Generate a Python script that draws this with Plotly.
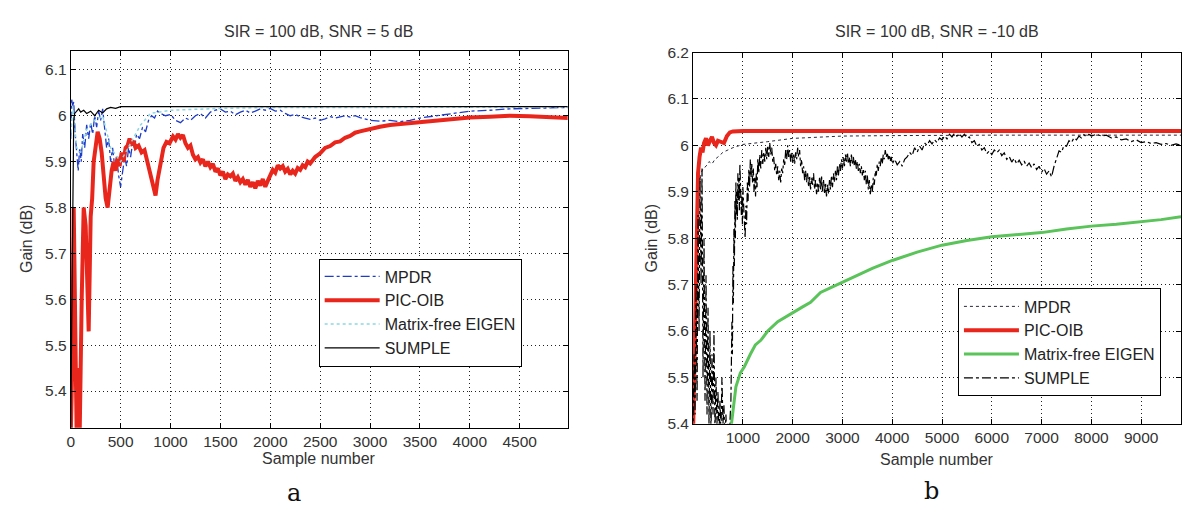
import plotly.graph_objects as go

# ---------------- data: panel a (SIR = 100 dB, SNR = 5 dB) ----------------
a_mpdr_n = [0, 10, 20, 30, 45, 60, 75, 90, 105, 120, 140, 160, 180, 200, 220, 240, 260, 280, 300, 320,
            340, 360, 380, 400, 420, 440, 460, 480, 500, 520, 540, 560, 580, 600, 620, 640, 660, 690, 720,
            750, 780, 810, 840, 870, 900, 950, 1000, 1050, 1100, 1150, 1200, 1250, 1300, 1350, 1400, 1450,
            1500, 1550, 1600, 1650, 1700, 1750, 1800, 1850, 1900, 1950, 2000, 2050, 2100, 2150, 2200, 2250,
            2300, 2350, 2400, 2450, 2500, 2550, 2600, 2650, 2700, 2750, 2800, 2850, 2900, 2950, 3000, 3100,
            3200, 3300, 3400, 3500, 3600, 3700, 3800, 3900, 4000, 4200, 4400, 4600, 4800, 4990]
a_mpdr_v = [5.95, 6.035, 6.02, 6.03, 5.96, 5.92, 5.88, 5.93, 5.90, 5.96, 5.93, 5.98, 5.95, 5.985, 5.96, 6.0,
            5.975, 6.01, 5.99, 6.015, 5.97, 5.93, 5.95, 5.90, 5.93, 5.89, 5.91, 5.87, 5.845, 5.88, 5.91, 5.89,
            5.93, 5.91, 5.94, 5.93, 5.96, 5.95, 5.975, 5.965, 5.99, 6.0, 5.995, 6.01, 6.005, 6.0, 6.003, 5.99,
            5.985, 5.995, 5.99, 6.0, 6.005, 5.995, 6.008, 6.012, 6.015, 6.008, 6.01, 6.002, 6.008, 6.012,
            6.006, 6.01, 6.015, 6.012, 6.016, 6.01, 6.012, 6.005, 6.0, 6.003, 5.998, 5.995, 5.992, 5.995, 5.99,
            5.993, 5.998, 5.995, 5.998, 6.0, 5.997, 6.0, 5.996, 5.993, 5.99, 5.988, 5.99, 5.987, 5.99, 5.995,
            5.998, 6.002, 6.005, 6.008, 6.01, 6.012, 6.015, 6.016, 6.017, 6.018]

a_pic_n = [0, 15, 30, 45, 60, 75, 90, 110, 130, 150, 180, 200, 215, 230, 250, 270, 290, 310, 330, 350, 370,
           390, 410, 430, 450, 470, 490, 510, 530, 550, 570, 590, 610, 630, 650, 680, 710, 740, 770, 800, 830,
           850, 870, 900, 930, 960, 990,
           1025, 1050, 1075, 1100, 1125, 1150, 1175, 1200, 1225, 1250, 1275, 1300, 1325, 1350, 1375, 1400,
           1425, 1450, 1475, 1500, 1525, 1550, 1575, 1600, 1625, 1650, 1675, 1700, 1725, 1750, 1775, 1800,
           1825, 1850, 1875, 1900, 1925, 1950, 1975, 2000, 2025, 2050, 2075, 2100, 2125, 2150, 2175, 2200,
           2225, 2250, 2275, 2300, 2325, 2350, 2375, 2400, 2450, 2500, 2550, 2600, 2650, 2700, 2750, 2800,
           2850, 2900, 3000, 3100, 3200, 3300, 3400, 3500, 3600, 3700, 3800, 3900, 4000, 4200, 4400, 4600,
           4800, 4990]
a_pic_v = [5.30, 5.45, 5.80, 5.50, 5.30, 5.45, 5.31, 5.60, 5.80, 5.76, 5.53, 5.78, 5.82, 5.90, 5.94, 5.965,
           5.95, 5.92, 5.87, 5.82, 5.80, 5.84, 5.88, 5.90, 5.88, 5.91, 5.89, 5.92, 5.90, 5.93, 5.935, 5.95,
           5.94, 5.945, 5.93, 5.935, 5.92, 5.925, 5.90, 5.87, 5.845, 5.826, 5.86, 5.90, 5.93, 5.943, 5.94,
           5.955, 5.948, 5.96, 5.952, 5.958, 5.94, 5.93, 5.935, 5.915, 5.905, 5.91, 5.898, 5.905, 5.89, 5.90,
           5.888, 5.895, 5.878, 5.885, 5.87, 5.878, 5.862, 5.872, 5.868, 5.874, 5.858, 5.866, 5.855, 5.862,
           5.85, 5.86, 5.845, 5.855, 5.842, 5.858, 5.848, 5.862, 5.845, 5.858, 5.87, 5.882, 5.876, 5.892,
           5.885, 5.89, 5.878, 5.884, 5.872, 5.88, 5.874, 5.886, 5.882, 5.892, 5.888, 5.90, 5.896, 5.91, 5.918,
           5.93, 5.934, 5.942, 5.944, 5.952, 5.956, 5.963, 5.966, 5.972, 5.976, 5.98, 5.982, 5.985, 5.987,
           5.99, 5.992, 5.994, 5.995, 5.996, 5.998, 6.0, 5.999, 5.997, 5.995]

a_eig_n = [0, 20, 60, 100, 160, 240, 320, 400, 500, 600, 700, 800, 1000, 1500, 2000, 3000, 4000, 4990]
a_eig_v = [5.95, 6.02, 5.93, 5.92, 5.97, 5.99, 6.0, 5.93, 5.9, 5.94, 5.98, 6.005, 6.012, 6.016, 6.018,
           6.018, 6.019, 6.019]

a_sum_n = [0, 10, 20, 30, 40, 60, 80, 100, 130, 160, 200, 240, 280, 320, 360, 400, 450, 500, 600, 800,
           1000, 2000, 3000, 4000, 4990]
a_sum_v = [5.32, 5.60, 5.90, 5.99, 6.005, 6.01, 6.015, 6.008, 6.012, 6.005, 6.01, 6.0, 6.012, 6.006, 6.015,
           6.018, 6.016, 6.02, 6.02, 6.021, 6.02, 6.02, 6.02, 6.02, 6.02]

# ---------------- data: panel b (SIR = 100 dB, SNR = -10 dB) ----------------
b_mpdr_n = [0, 40, 80, 120, 160, 200, 260, 320, 380, 440, 500, 600, 700, 800, 1000, 1200, 1500, 2000,
            2500, 3000, 4000, 5000, 6000, 7000, 8000, 9800]
b_mpdr_v = [5.40, 5.55, 5.78, 5.90, 5.94, 5.95, 5.955, 5.965, 5.96, 5.97, 5.975, 5.985, 5.99, 5.995, 6.002,
            6.005, 6.008, 6.015, 6.018, 6.02, 6.021, 6.022, 6.022, 6.022, 6.022, 6.022]

b_pic_n = [0, 20, 40, 60, 80, 100, 130, 160, 190, 220, 260, 300, 340, 380, 420, 460, 500, 560, 620, 680,
           740, 800, 1000, 2000, 4000, 6000, 8000, 9800]
b_pic_v = [5.38, 5.50, 5.62, 5.78, 5.88, 5.94, 5.975, 5.995, 5.985, 6.005, 6.015, 6.0, 6.01, 6.018, 6.005,
           6.0, 6.01, 6.008, 6.005, 6.02, 6.028, 6.03, 6.031, 6.031, 6.031, 6.031, 6.031, 6.031]

b_eig_n = [760, 800, 860, 950, 1030, 1150, 1250, 1360, 1500, 1700, 1850, 2030, 2200, 2360, 2560, 2800,
           3000, 3300, 3600, 4000, 4500, 5000, 5500, 6000, 6500, 7000, 7500, 8000, 8500, 9000, 9400, 9800]
b_eig_v = [5.39, 5.43, 5.48, 5.51, 5.523, 5.55, 5.57, 5.58, 5.60, 5.62, 5.63, 5.641, 5.652, 5.662, 5.683,
           5.695, 5.705, 5.72, 5.735, 5.752, 5.77, 5.785, 5.795, 5.803, 5.808, 5.812, 5.82, 5.826, 5.83,
           5.835, 5.84, 5.846]

b_sum_n = [0, 20, 40, 60, 80, 100, 120, 140, 160, 180, 200, 220, 240, 260, 280, 300, 320, 340, 360, 380,
           400, 420, 440, 460, 480, 500, 520, 540, 560, 580, 600, 620, 640, 660, 680, 700, 720, 740,
           760, 780, 790, 800, 810, 820, 830, 840, 850, 860, 870, 880, 890, 900, 910, 920, 930, 940, 950,
           960, 970, 980, 990, 1000, 1015, 1030, 1045, 1060, 1075, 1090, 1105, 1120, 1135, 1150, 1165, 1180,
           1195, 1210, 1225, 1240, 1255, 1270, 1285, 1300, 1320, 1340, 1360, 1380, 1400, 1420, 1440, 1460,
           1480, 1500, 1520, 1540, 1560, 1580, 1600, 1620, 1640, 1660, 1680, 1700, 1720, 1740, 1760, 1780,
           1800, 1820, 1840, 1860, 1880, 1900, 1920, 1940, 1960, 1980, 2000, 2020, 2040, 2060, 2080, 2100,
           2120, 2140, 2160, 2180, 2200, 2220, 2240, 2260, 2280, 2300, 2320, 2340, 2360, 2380, 2400, 2420,
           2440, 2460, 2480, 2500, 2520, 2540, 2560, 2580, 2600, 2620, 2640, 2660, 2680, 2700, 2720, 2740,
           2760, 2780, 2800, 2820, 2840, 2860, 2880, 2900, 2920, 2940, 2960, 2980, 3000, 3020, 3040, 3060,
           3080, 3100, 3120, 3140, 3160, 3180, 3200, 3220, 3240, 3260, 3280, 3300, 3320, 3340, 3360, 3380,
           3400, 3420, 3440, 3460, 3480, 3500, 3520, 3540, 3560, 3580, 3600, 3620, 3640, 3660, 3680, 3700,
           3720, 3740, 3760, 3780, 3800, 3820, 3840, 3860, 3880, 3900, 3920, 3940, 3960, 3980,
           4000, 4050, 4100, 4150, 4200, 4250, 4300, 4350, 4400, 4450, 4500, 4550, 4600, 4650, 4700, 4750,
           4800, 4850, 4900, 4950, 5000, 5050, 5100, 5150, 5200, 5250, 5300, 5350, 5400, 5450, 5500, 5550,
           5600, 5650, 5700, 5750, 5800, 5850, 5900, 5950, 6000, 6050, 6100, 6150, 6200, 6250, 6300, 6350,
           6400, 6450, 6500, 6550, 6600, 6650, 6700, 6750, 6800, 6850, 6900, 6950, 7000, 7050, 7100, 7150,
           7200, 7250, 7300, 7350, 7400, 7450, 7500, 7550, 7600, 7650, 7700, 7750, 7800, 7850, 7900, 7950,
           8000, 8100, 8200, 8300, 8400, 8500, 8600, 8700, 8800, 8900, 9000, 9100, 9200, 9300, 9400, 9500,
           9600, 9700, 9800]
b_sum_v = [5.38, 5.55, 5.42, 5.70, 5.45, 5.85, 5.60, 5.93, 5.70, 5.95, 5.50, 5.80, 5.45, 5.72, 5.42, 5.65,
           5.40, 5.60, 5.38, 5.55, 5.42, 5.60, 5.38, 5.50, 5.40, 5.47, 5.37, 5.45, 5.38, 5.50, 5.40, 5.44,
           5.37, 5.42, 5.36, 5.40, 5.36, 5.42,
           5.45, 5.62, 5.55, 5.74, 5.66, 5.82, 5.74, 5.88, 5.80, 5.92, 5.85, 5.90, 5.84, 5.94, 5.88, 5.93,
           5.86, 5.96, 5.90, 5.92, 5.85, 5.89, 5.83, 5.91, 5.86, 5.84, 5.80, 5.87, 5.83, 5.92, 5.88, 5.95,
           5.91, 5.97, 5.93, 5.96, 5.92, 5.95, 5.90, 5.93, 5.89, 5.94, 5.91, 5.97, 5.94, 5.98, 5.95, 5.99,
           5.96, 5.985, 5.965, 5.995, 5.97, 6.0, 5.975, 6.005, 5.98, 5.995, 5.965, 5.975, 5.945, 5.96, 5.935,
           5.955, 5.925, 5.945, 5.92, 5.95, 5.94, 5.97, 5.955, 5.99, 5.97, 6.0, 5.975, 5.99, 5.965, 5.985,
           5.96, 5.98, 5.96, 5.985, 5.97, 5.995, 5.975, 5.99, 5.955, 5.97, 5.94, 5.955, 5.925, 5.945, 5.92,
           5.94, 5.91, 5.935, 5.905, 5.93, 5.915, 5.94, 5.905, 5.925, 5.895, 5.92, 5.90, 5.93, 5.905, 5.935,
           5.90, 5.925, 5.895, 5.92, 5.89, 5.915, 5.895, 5.925, 5.905, 5.935, 5.91, 5.94, 5.92, 5.945, 5.925,
           5.955, 5.935, 5.96, 5.945, 5.97, 5.95, 5.975, 5.955, 5.98, 5.965, 5.985, 5.96, 5.975, 5.955, 5.98,
           5.96, 5.975, 5.955, 5.97, 5.95, 5.965, 5.945, 5.96, 5.94, 5.955, 5.935, 5.95, 5.925, 5.945, 5.915,
           5.935, 5.905, 5.925, 5.895, 5.915, 5.90, 5.93, 5.915, 5.945, 5.935, 5.96, 5.945, 5.965, 5.955,
           5.975, 5.96, 5.98, 5.97, 5.99, 5.975, 5.985, 5.97, 5.98, 5.965, 5.975,
           5.96, 5.97, 5.958, 5.965, 5.955, 5.97, 5.975, 5.985, 5.978, 5.995, 5.985, 5.998, 5.99, 6.005, 6.0,
           6.01, 6.003, 6.012, 6.006, 6.016, 6.012, 6.02, 6.014, 6.024, 6.018, 6.026, 6.02, 6.025, 6.018,
           6.024, 6.016, 6.018, 6.006, 6.01, 5.998, 6.002, 5.99, 5.995, 5.982, 5.988, 5.98, 5.99, 5.984,
           5.99, 5.978, 5.984, 5.97, 5.976, 5.964, 5.972, 5.96, 5.968, 5.958, 5.966, 5.955, 5.962, 5.952,
           5.96, 5.948, 5.955, 5.942, 5.95, 5.938, 5.945, 5.932, 5.955, 5.97, 5.988, 5.985, 6.0, 5.998, 6.01,
           6.006, 6.016, 6.012, 6.02, 6.016, 6.023, 6.018, 6.024, 6.02, 6.024, 6.02, 6.022, 6.016, 6.018,
           6.012, 6.014, 6.008, 6.012, 6.006, 6.008, 6.004, 6.006, 6.002, 6.004, 6.0, 6.003, 6.0]

series_names = ["MPDR", "PIC-OIB", "Matrix-free EIGEN", "SUMPLE"]

a_xticks = [0, 500, 1000, 1500, 2000, 2500, 3000, 3500, 4000, 4500]
a_yticks = [5.4, 5.5, 5.6, 5.7, 5.8, 5.9, 6.0, 6.1]
a_ytext = ["5.4", "5.5", "5.6", "5.7", "5.8", "5.9", "6", "6.1"]
b_xticks = [1000, 2000, 3000, 4000, 5000, 6000, 7000, 8000, 9000]
b_yticks = [5.4, 5.5, 5.6, 5.7, 5.8, 5.9, 6.0, 6.1, 6.2]
b_ytext = ["5.4", "5.5", "5.6", "5.7", "5.8", "5.9", "6", "6.1", "6.2"]

# ---------------- figure ----------------
W, H = 1182, 516
FONT = "Liberation Sans, Arial, sans-serif"
RED = "rgb(232,38,28)"
TXT = "#333"

fig = go.Figure()

# panel a
fig.add_trace(go.Scatter(x=a_mpdr_n, y=a_mpdr_v, mode="lines", name=series_names[0],
                         line=dict(color="rgb(30,60,200)", width=1.3, dash="dashdot"),
                         xaxis="x", yaxis="y", legend="legend"))
fig.add_trace(go.Scatter(x=a_pic_n, y=a_pic_v, mode="lines", name=series_names[1],
                         line=dict(color=RED, width=4),
                         xaxis="x", yaxis="y", legend="legend"))
fig.add_trace(go.Scatter(x=a_eig_n, y=a_eig_v, mode="lines", name=series_names[2],
                         line=dict(color="rgb(140,215,225)", width=1.5, dash="dot"),
                         xaxis="x", yaxis="y", legend="legend"))
fig.add_trace(go.Scatter(x=a_sum_n, y=a_sum_v, mode="lines", name=series_names[3],
                         line=dict(color="black", width=1.2),
                         xaxis="x", yaxis="y", legend="legend"))

# panel b
fig.add_trace(go.Scatter(x=b_mpdr_n, y=b_mpdr_v, mode="lines", name=series_names[0],
                         line=dict(color="rgb(40,40,60)", width=1, dash="dot"),
                         xaxis="x2", yaxis="y2", legend="legend2"))
fig.add_trace(go.Scatter(x=b_pic_n, y=b_pic_v, mode="lines", name=series_names[1],
                         line=dict(color=RED, width=4),
                         xaxis="x2", yaxis="y2", legend="legend2"))
fig.add_trace(go.Scatter(x=b_eig_n, y=b_eig_v, mode="lines", name=series_names[2],
                         line=dict(color="rgb(90,195,90)", width=3),
                         xaxis="x2", yaxis="y2", legend="legend2"))
fig.add_trace(go.Scatter(x=b_sum_n, y=b_sum_v, mode="lines", name=series_names[3],
                         line=dict(color="black", width=1.2, dash="dashdot"),
                         xaxis="x2", yaxis="y2", legend="legend2"))

axis_common = dict(showline=True, linecolor="black", linewidth=1, mirror="ticks",
                   ticks="inside", ticklen=5, tickcolor="black",
                   showgrid=True, gridcolor="rgba(20,20,20,0.95)", gridwidth=1, griddash="1px,3px",
                   zeroline=False, tickfont=dict(family=FONT, size=15.5, color=TXT))

fig.update_layout(
    width=W, height=H,
    margin=dict(l=0, r=0, t=0, b=0),
    paper_bgcolor="white", plot_bgcolor="white",
    font=dict(family=FONT, size=16, color=TXT),
    xaxis=dict(domain=[67 / W, 566 / W], range=[0, 4980], tickvals=a_xticks, anchor="y", **axis_common),
    yaxis=dict(domain=[1 - 433 / H, 1 - 43 / H], range=[5.32, 6.142], tickvals=a_yticks,
               ticktext=a_ytext, anchor="x", **axis_common),
    xaxis2=dict(domain=[692 / W, 1.0], range=[0, 9800], tickvals=b_xticks, anchor="y2", **axis_common),
    yaxis2=dict(domain=[1 - 429 / H, 1 - 45 / H], range=[5.4, 6.2], tickvals=b_yticks,
                ticktext=b_ytext, anchor="x2", **axis_common),
    legend=dict(x=316 / W, y=1 - 258 / H, xanchor="left", yanchor="top",
                bgcolor="white", bordercolor="black", borderwidth=1,
                font=dict(family=FONT, size=16, color="#222"), itemwidth=55, tracegroupgap=0),
    legend2=dict(x=958 / W, y=1 - 289 / H, xanchor="left", yanchor="top",
                 bgcolor="white", bordercolor="black", borderwidth=1,
                 font=dict(family=FONT, size=16, color="#222"), itemwidth=55, tracegroupgap=0),
    showlegend=True,
)

ann = []
ann.append(dict(text="SIR = 100 dB, SNR = 5 dB", x=316 / W, y=1 - 23 / H))
ann.append(dict(text="SIR = 100 dB, SNR = -10 dB", x=937 / W, y=1 - 23 / H))
ann.append(dict(text="Sample number", x=316 / W, y=1 - 465 / H))
ann.append(dict(text="Sample number", x=937 / W, y=1 - 466 / H))
ann.append(dict(text="Gain (dB)", x=22 / W, y=1 - 238 / H, textangle=-90))
ann.append(dict(text="Gain (dB)", x=650 / W, y=1 - 237 / H, textangle=-90))
for a in ann:
    a.update(xref="paper", yref="paper", showarrow=False, xanchor="center", yanchor="middle",
             font=dict(family=FONT, size=16, color=TXT))
ann.append(dict(text="a", x=291 / W, y=1 - 500 / H, xref="paper", yref="paper", showarrow=False,
                xanchor="center", yanchor="middle",
                font=dict(family="DejaVu Serif, Liberation Serif, serif", size=24, color="#111")))
ann.append(dict(text="b", x=931 / W, y=1 - 498 / H, xref="paper", yref="paper", showarrow=False,
                xanchor="center", yanchor="middle",
                font=dict(family="DejaVu Serif, Liberation Serif, serif", size=24, color="#111")))
fig.update_layout(annotations=ann)

fig.write_html("out.html", config={"displayModeBar": False},
               post_script="document.body.style.margin='0px';document.body.style.overflow='hidden';")
